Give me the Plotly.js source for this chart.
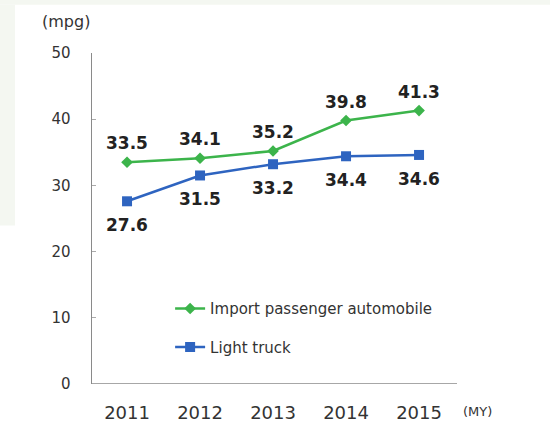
<!DOCTYPE html>
<html><head><meta charset="utf-8">
<script src="https://cdn.plot.ly/plotly-3.0.1.min.js"></script>
<style>html,body{margin:0;padding:0;background:#fff}#chart{width:550px;height:428px}</style>
</head><body><div id="chart"></div>
<script>
const years = ['2011','2012','2013','2014','2015'];
const importPassenger = [33.5, 34.1, 35.2, 39.8, 41.3];
const lightTruck = [27.6, 31.5, 33.2, 34.4, 34.6];
const seriesNames = ['Import passenger automobile', 'Light truck'];
const yTicks = [0, 10, 20, 30, 40, 50];

const FONT = 'DejaVu Sans, Verdana, sans-serif';
const labelFont = {family: FONT, size: 17, color: '#222'};
const GREEN = '#3cb44b', BLUE = '#2e64c0';

const traces = [
  {x: years, y: importPassenger, name: seriesNames[0], legendgroup: 'a', type: 'scatter', mode: 'lines+markers',
   line: {color: GREEN, width: 2.5}, marker: {symbol: 'diamond', size: 9, color: GREEN}, cliponaxis: false},
  {x: years, y: lightTruck, name: seriesNames[1], legendgroup: 'b', type: 'scatter', mode: 'lines+markers',
   line: {color: BLUE, width: 2.5}, marker: {symbol: 'square', size: 10, color: BLUE}, cliponaxis: false},
  {x: [years[0]], y: [0], yaxis: 'y2', type: 'scatter', mode: 'markers', showlegend: false,
   marker: {opacity: 0}, hoverinfo: 'skip'}
];

const valueLabels = [];
for (let i = 0; i < years.length; i++) {
  valueLabels.push({x: i, y: importPassenger[i], xref: 'x', yref: 'y',
    text: '<b>' + importPassenger[i].toFixed(1) + '</b>',
    showarrow: false, yshift: 19, font: labelFont, xanchor: 'center', yanchor: 'middle'});
  valueLabels.push({x: i, y: lightTruck[i], xref: 'x', yref: 'y',
    text: '<b>' + lightTruck[i].toFixed(1) + '</b>',
    showarrow: false, yshift: -24, font: labelFont, xanchor: 'center', yanchor: 'middle'});
}

const layout = {
  width: 550, height: 428,
  margin: {l: 92, r: 93, t: 53, b: 44, pad: 0},
  paper_bgcolor: '#ffffff', plot_bgcolor: '#ffffff',
  showlegend: true,
  legend: {x: 0.214, y: 0.17, xanchor: 'left', yanchor: 'middle', bgcolor: 'rgba(0,0,0,0)',
           font: {family: FONT, size: 15, color: '#333'}, traceorder: 'grouped',
           tracegroupgap: 16, itemwidth: 30},
  xaxis: {type: 'category', range: [-0.48, 4.52], showgrid: false, zeroline: false,
          showline: false, ticks: '',
          tickfont: {family: FONT, size: 18, color: '#333'},
          ticklabelstandoff: 16, fixedrange: true},
  yaxis: {range: [0, 50], tickvals: yTicks, showgrid: false, zeroline: false,
          showline: true, linecolor: '#8a8a8a', linewidth: 1.5, ticks: 'outside', ticklen: 17,
          tickcolor: 'rgba(0,0,0,0)', tickwidth: 1,
          tickfont: {family: FONT, size: 15, color: '#333'}, fixedrange: true},
  yaxis2: {overlaying: 'y', side: 'left', range: [0, 50], tickvals: yTicks, showgrid: false,
           zeroline: false, showline: false, ticks: 'inside', ticklen: 4, tickcolor: '#aaa',
           tickwidth: 1, showticklabels: false, fixedrange: true},
  shapes: [
    {type: 'line', xref: 'paper', yref: 'y', x0: 0, x1: 1, y0: 0, y1: 0,
     line: {color: '#8a8a8a', width: 1.5}},
    {type: 'rect', xref: 'paper', yref: 'paper', x0: -92/365, x1: 458/365, y0: 1 + 48/330, y1: 1 + 53/330,
     fillcolor: '#f4f7f1', line: {width: 0}, layer: 'below'},
    {type: 'rect', xref: 'paper', yref: 'paper', x0: -92/365, x1: -77/365, y0: 1 - 172/330, y1: 1 + 48/330,
     fillcolor: '#f4f7f1', line: {width: 0}, layer: 'below'}
  ],
  annotations: valueLabels.concat([
    {text: '(mpg)', xref: 'paper', yref: 'paper', x: -52/365, y: 1 + 31/330, xanchor: 'left', yanchor: 'middle',
     showarrow: false, font: {family: FONT, size: 16, color: '#333'}},
    {text: '(MY)', xref: 'paper', yref: 'paper', x: 1 + 4/365, y: -27/330, xanchor: 'left', yanchor: 'middle',
     showarrow: false, font: {family: FONT, size: 13, color: '#333'}}
  ])
};

Plotly.newPlot('chart', traces, layout, {displayModeBar: false, staticPlot: true});
</script></body></html>
